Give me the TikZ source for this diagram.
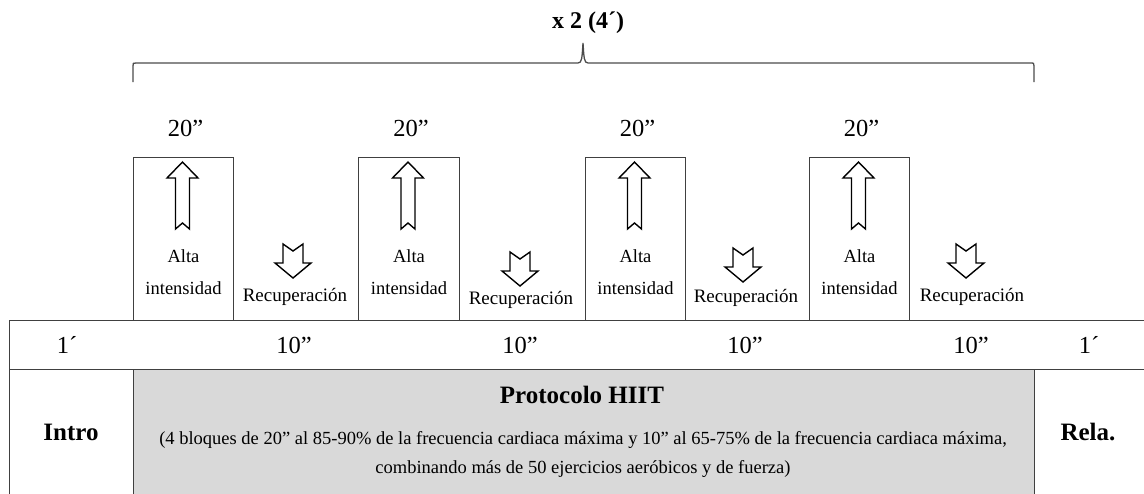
\documentclass[tikz,border=0pt]{standalone}
\usepackage{fontspec}
\setmainfont{Liberation Serif}
\begin{document}
\begin{tikzpicture}[x=1pt,y=-1pt,
  frame/.style={draw=black!75,line width=1pt},
  tallbox/.style={frame,minimum width=100pt,minimum height=163pt,anchor=north west,inner sep=0pt},
  lbl/.style={font=\fontsize{18.5}{32}\selectfont,align=center,inner sep=0pt},
  recl/.style={font=\fontsize{19}{24}\selectfont,inner sep=0pt},
  secs/.style={font=\fontsize{24.5}{28}\selectfont,inner sep=0pt},
  bigb/.style={font=\fontsize{25}{30}\selectfont\bfseries,inner sep=0pt},
  para/.style={font=\fontsize{18.5}{29}\selectfont,align=center,inner sep=0pt},
  arr/.style={draw=black,line width=1.4pt,fill=white,line join=miter},
  pics/uparrow/.style={code={\draw[arr] (0,0) -- (15.5,16) -- (7,16) -- (7,67) -- (0,61) -- (-7,67) -- (-7,16) -- (-15.5,16) -- cycle;}},
  pics/downarrow/.style={code={\draw[arr] (-10,0) -- (0,7) -- (10,0) -- (10,19) -- (18,19) -- (0,34) -- (-18,19) -- (-10,19) -- cycle;}}
]
\useasboundingbox (0,0) rectangle (1144,493);
% grey protocol area
\node[fill=black!15,draw=black!75,line width=1pt,minimum width=901pt,minimum height=130pt,anchor=north west,inner sep=0pt] (gray) at (133,369) {};
% table lines
\coordinate (rowTL) at (9,320);
\coordinate (rowTR) at (1150,320);
\coordinate (rowBL) at (9,369);
\coordinate (rowBR) at (1150,369);
\coordinate (leftB) at (9,500);
\draw[frame] (rowTR) -- (rowTL) -- (leftB);
\draw[frame] (rowBL) -- (rowBR);
\coordinate (rbTop) at (1034,369);
\coordinate (rbBot) at (1034,500);
\draw[frame] (rbTop) -- (rbBot);
% tall boxes
\node[tallbox] (b1) at (133,157) {};
\node[tallbox,minimum width=101pt] (b2) at (358,157) {};
\node[tallbox] (b3) at (585,157) {};
\node[tallbox] (b4) at (809,157) {};
% 20'' labels
\foreach \i in {1,...,4}{
  \node[secs] (t\i) at ([xshift=2pt,yshift=29pt]b\i.north) {20”};
  \pic at ([xshift=-1pt,yshift=-5pt]b\i.north) {uparrow};
  \node[lbl] (a\i) at ([yshift=-115pt]b\i.north) {Alta\\intensidad};
}
% recovery arrows and labels
\pic at (293,244) {downarrow};
\node[recl] (r1) at (295,297) {Recuperación};
\pic at (520,252) {downarrow};
\node[recl] (r2) at (521,300) {Recuperación};
\pic at (743,248) {downarrow};
\node[recl] (r3) at (746,298) {Recuperación};
\pic at (966,244) {downarrow};
\node[recl] (r4) at (972,297) {Recuperación};
% time row
\node[secs] (m1) at (67,345) {1´};
\node[secs] (s1) at (294,345) {10”};
\node[secs] (s2) at (520,345) {10”};
\node[secs] (s3) at (745,345) {10”};
\node[secs] (s4) at (971,345) {10”};
\node[secs] (m2) at (1089,345) {1´};
% bottom row
\node[bigb] (intro) at (71,432) {Intro};
\node[bigb] (rela) at (1088,432) {Rela.};
\node[bigb] (hiit) at (582,395) {Protocolo HIIT};
\node[para] (desc) at (583,454) {(4 bloques de 20” al 85-90\% de la frecuencia cardiaca máxima y 10” al 65-75\% de la frecuencia cardiaca máxima,\\combinando más de 50 ejercicios aeróbicos y de fuerza)};
% brace
\node[bigb,font=\fontsize{24}{28}\selectfont\bfseries] (title) at (588,23) {x 2 (4´)};
\coordinate (brL) at (133,82);
\coordinate (brR) at (1034,82);
\coordinate (brT) at (583,43);
\draw[draw=black!70,line width=1.3pt] (brL) -- (133,66) .. controls (133,63) .. (136,63) -- (578,63) .. controls (582,63) and (582,58) .. (brT) .. controls (584,58) and (584,63) .. (588,63) -- (1030,63) .. controls (1034,63) .. (1034,66) -- (brR);
\end{tikzpicture}
\end{document}
